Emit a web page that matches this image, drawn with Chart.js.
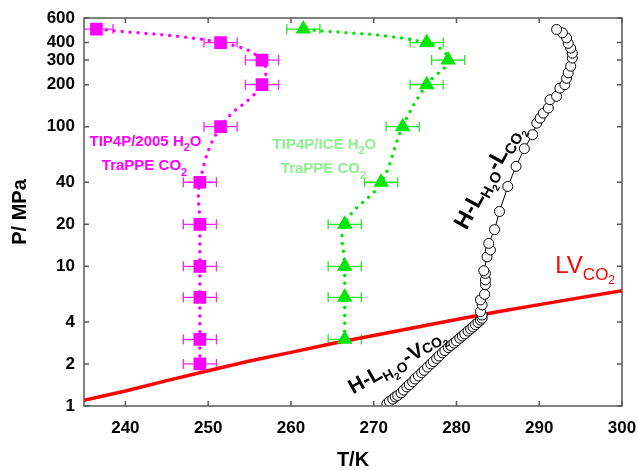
<!DOCTYPE html>
<html>
<head>
<meta charset="utf-8">
<script src="https://cdn.jsdelivr.net/npm/chart.js@4.4.1/dist/chart.umd.min.js"></script>
<style>
html, body { margin: 0; padding: 0; background: #fff; }
</style>
</head>
<body>
<canvas id="c" width="638" height="470"></canvas>
<script>
// axis ticks
const xTicks = [240, 250, 260, 270, 280, 290, 300];
const yTicks = [1, 2, 4, 10, 20, 40, 100, 200, 300, 400, 600];

// TIP4P/2005 + TraPPE (magenta squares)
const tip2005T = [249, 249, 249, 249, 249, 249, 251.5, 256.5, 256.5, 251.5, 236.5];
const tip2005P = [2, 3, 6, 10, 20, 40, 100, 200, 300, 400, 500];
const tip2005Err = [2, 2, 2, 2, 2, 2, 2, 2, 2, 2, 2];

// TIP4P/ICE + TraPPE (green triangles)
const iceT = [266.5, 266.5, 266.5, 266.5, 270.9, 273.5, 276.4, 279, 276.4, 261.5];
const iceP = [3, 6, 10, 20, 40, 100, 200, 300, 400, 500];
const iceErr = [2, 2, 2, 2, 2, 2, 2, 2, 2, 2];

// experimental hydrate curve (open circles)
const expT = [271.6, 271.9, 272.3, 272.6, 272.9, 273.3, 273.6, 274.0, 274.3, 274.7, 275.0, 275.4,
  275.8, 276.1, 276.5, 276.9, 277.2, 277.6, 277.9, 278.3, 278.6, 279.0, 279.3, 279.7, 280.0,
  280.4, 280.7, 281.0, 281.4, 281.7, 282.0, 282.3, 282.6, 282.9, 283.1,
  283.1, 282.9, 283.1, 282.9, 283.4, 283.5, 283.5, 283.5, 283.3, 283.7, 284.1, 283.9, 284.6,
  285.2, 286.2, 287.2, 288.2, 289.2, 289.7, 290.1, 290.5, 291.1, 291.3, 292.1, 292.5, 293.1,
  293.3, 293.5, 293.8, 294.0, 294.0, 293.8, 293.5, 293.3, 292.8, 292.1];
const expP = [1.04, 1.08, 1.12, 1.16, 1.19, 1.24, 1.30, 1.37, 1.42, 1.49, 1.56, 1.64,
  1.73, 1.80, 1.90, 2.00, 2.08, 2.19, 2.28, 2.40, 2.49, 2.62, 2.71, 2.82, 2.92,
  3.06, 3.17, 3.28, 3.44, 3.56, 3.68, 3.82, 3.96, 4.12, 4.25,
  4.48, 4.74, 5.3, 5.75, 6.3, 7.4, 8.0, 8.9, 9.3, 11.7, 13.1, 14.6, 18.3,
  24.7, 37.3, 52, 69.6, 87.7, 106, 115, 125, 136, 156, 165, 189, 200,
  222, 243, 271, 310, 336, 365, 395, 432, 470, 497];

// CO2 liquid-vapour line (red)
const lvT = [235, 240, 245, 250, 255, 260, 265, 270, 275, 280, 285, 290, 295, 300];
const lvP = [1.10, 1.28, 1.52, 1.79, 2.10, 2.42, 2.80, 3.20, 3.65, 4.16, 4.73, 5.32, 5.97, 6.7];

const pts = (xs, ys) => xs.map((x, i) => ({ x: x, y: ys[i] }));
const FAM = '"Liberation Sans", Arial, sans-serif';

function drawRich(ctx, x, y, angle, parts, color, center) {
  ctx.save();
  ctx.translate(x, y);
  ctx.rotate(angle);
  ctx.fillStyle = color;
  ctx.textBaseline = 'alphabetic';
  ctx.textAlign = 'left';
  let total = 0;
  parts.forEach(p => { ctx.font = p.f; total += ctx.measureText(p.t).width; });
  let cx = center ? -total / 2 : 0;
  parts.forEach(p => {
    ctx.font = p.f;
    ctx.fillText(p.t, cx, p.dy || 0);
    cx += ctx.measureText(p.t).width;
  });
  ctx.restore();
}

const errorBars = {
  id: 'errorBars',
  beforeDatasetsDraw(chart) {
    const { ctx, chartArea: a, scales: { x, y } } = chart;
    ctx.save();
    ctx.beginPath();
    ctx.rect(a.left, a.top, a.right - a.left, a.bottom - a.top);
    ctx.clip();
    chart.data.datasets.forEach(ds => {
      if (!ds.errT) return;
      ctx.strokeStyle = ds.errColor;
      ctx.lineWidth = 1.3;
      ds.data.forEach((p, i) => {
        const x0 = x.getPixelForValue(p.x - ds.errT[i]);
        const x1 = x.getPixelForValue(p.x + ds.errT[i]);
        const py = y.getPixelForValue(p.y);
        ctx.beginPath();
        ctx.moveTo(x0, py); ctx.lineTo(x1, py);
        ctx.moveTo(x0, py - 5); ctx.lineTo(x0, py + 5);
        ctx.moveTo(x1, py - 5); ctx.lineTo(x1, py + 5);
        ctx.stroke();
      });
    });
    ctx.restore();
  }
};

const frame = {
  id: 'frame',
  afterDatasetsDraw(chart) {
    const { ctx, chartArea: a, scales: { x, y } } = chart;
    ctx.save();
    ctx.strokeStyle = '#5a5a5a';
    ctx.lineWidth = 1.5;
    ctx.strokeRect(a.left, a.top, a.right - a.left, a.bottom - a.top);
    ctx.beginPath();
    xTicks.forEach(v => {
      const px = x.getPixelForValue(v);
      ctx.moveTo(px, a.bottom); ctx.lineTo(px, a.bottom - 5);
      ctx.moveTo(px, a.top); ctx.lineTo(px, a.top + 5);
    });
    yTicks.forEach(v => {
      const py = y.getPixelForValue(v);
      ctx.moveTo(a.left, py); ctx.lineTo(a.left + 5, py);
      ctx.moveTo(a.right, py); ctx.lineTo(a.right - 5, py);
    });
    ctx.stroke();
    ctx.restore();
  },
  afterDraw(chart) {
    const { ctx, scales: { x, y } } = chart;
    const X = v => x.getPixelForValue(v), Y = v => y.getPixelForValue(v);
    const b15 = 'bold 15px ' + FAM, b11 = 'bold 11px ' + FAM;
    const mag = '#ff00ff', lg = '#8ef08e';
    drawRich(ctx, X(242.43), Y(72.3), 0, [{ t: 'TIP4P/2005 H', f: b15 }, { t: '2', f: b11, dy: 5 }, { t: 'O', f: b15 }], mag, true);
    drawRich(ctx, X(242.31), Y(49.2), 0, [{ t: 'TraPPE CO', f: b15 }, { t: '2', f: b11, dy: 6 }], mag, true);
    drawRich(ctx, X(264.05), Y(69.5), 0, [{ t: 'TIP4P/ICE H', f: b15 }, { t: '2', f: b11, dy: 5 }, { t: 'O', f: b15 }], lg, true);
    drawRich(ctx, X(263.93), Y(46.3), 0, [{ t: 'TraPPE CO', f: b15 }, { t: '2', f: b11, dy: 6 }], lg, true);

    const b23 = 'bold 23px ' + FAM, b15s = 'bold 15px ' + FAM, b10 = 'bold 10px ' + FAM;
    drawRich(ctx, X(281.2), Y(18.0), -61.5 * Math.PI / 180, [
      { t: 'H-L', f: b23 }, { t: 'H', f: b15s, dy: 5 }, { t: '2', f: b10, dy: 9 }, { t: 'O', f: b15s, dy: 5 },
      { t: '-L', f: b23 }, { t: 'CO', f: b15s, dy: 5 }, { t: '2', f: b10, dy: 9 }], '#000', false);
    const b21 = 'bold 21px ' + FAM, b14 = 'bold 14px ' + FAM;
    drawRich(ctx, X(267.5), Y(1.21), -29 * Math.PI / 180, [
      { t: 'H-L', f: b21 }, { t: 'H', f: b14, dy: 5 }, { t: '2', f: b10, dy: 9 }, { t: 'O', f: b14, dy: 5 },
      { t: '-V', f: b21 }, { t: 'CO', f: b14, dy: 0 }, { t: '2', f: b10, dy: 4 }], '#000', false);
    drawRich(ctx, X(291.94), Y(8.98), 0, [
      { t: 'LV', f: '24px ' + FAM }, { t: 'CO', f: '17px ' + FAM, dy: 7 }, { t: '2', f: '12px ' + FAM, dy: 11 }], '#ff0000', false);
  }
};

const tickFont = { family: FAM, size: 17, weight: 'bold' };

new Chart(document.getElementById('c'), {
  type: 'scatter',
  data: {
    datasets: [
      {
        label: 'LV CO2', data: pts(lvT, lvP), showLine: true, borderColor: '#ff0000',
        borderWidth: 3.5, pointRadius: 0, order: 4
      },
      {
        label: 'experiment', data: pts(expT, expP), showLine: true, borderColor: '#000',
        borderWidth: 1, pointRadius: 5, pointBackgroundColor: '#fff', pointBorderColor: '#000',
        pointBorderWidth: 1, order: 3
      },
      {
        label: 'TIP4P/ICE', data: pts(iceT, iceP), showLine: true, borderColor: '#00e800',
        borderWidth: 3.5, borderDash: [0, 8], borderCapStyle: 'round', tension: 0.4,
        pointStyle: 'triangle', pointRadius: 5.5, pointBackgroundColor: '#00e800',
        pointBorderColor: '#00e800', order: 2, errT: iceErr, errColor: '#22e822'
      },
      {
        label: 'TIP4P/2005', data: pts(tip2005T, tip2005P), showLine: true, borderColor: '#ff00ff',
        borderWidth: 3.5, borderDash: [0, 8], borderCapStyle: 'round', tension: 0.4,
        pointStyle: 'rect', pointRadius: 6.5, pointBackgroundColor: '#ff00ff',
        pointBorderColor: '#ff00ff', order: 1, errT: tip2005Err, errColor: '#ff22ff'
      }
    ]
  },
  options: {
    responsive: false,
    animation: false,
    layout: { padding: { top: 18, right: 16, left: 0, bottom: 0 } },
    plugins: { legend: { display: false }, tooltip: { enabled: false } },
    scales: {
      x: {
        type: 'linear', min: 235, max: 300,
        grid: { display: false, drawTicks: false }, border: { display: false },
        afterBuildTicks: s => { s.ticks = xTicks.map(v => ({ value: v })); },
        afterFit: s => { s.height = 64; s.paddingLeft = 0; s.paddingRight = 0; },
        ticks: { color: '#000', font: tickFont, padding: 12, maxRotation: 0, autoSkip: false },
        title: { display: true, text: 'T/K', color: '#000', font: { family: FAM, size: 20, weight: 'bold', lineHeight: 1 }, padding: 0 }
      },
      y: {
        type: 'logarithmic', min: 1, max: 600,
        grid: { display: false, drawTicks: false }, border: { display: false },
        afterBuildTicks: s => { s.ticks = yTicks.map(v => ({ value: v })); },
        afterFit: s => { s.width = 84; s.paddingTop = 0; s.paddingBottom = 0; },
        ticks: { color: '#000', font: tickFont, padding: 9, autoSkip: false, callback: v => String(v) },
        title: { display: true, text: 'P/ MPa', color: '#000', font: { family: FAM, size: 20, weight: 'bold', lineHeight: 1 }, padding: 10 }
      }
    }
  },
  plugins: [errorBars, frame]
});
</script>
</body>
</html>
